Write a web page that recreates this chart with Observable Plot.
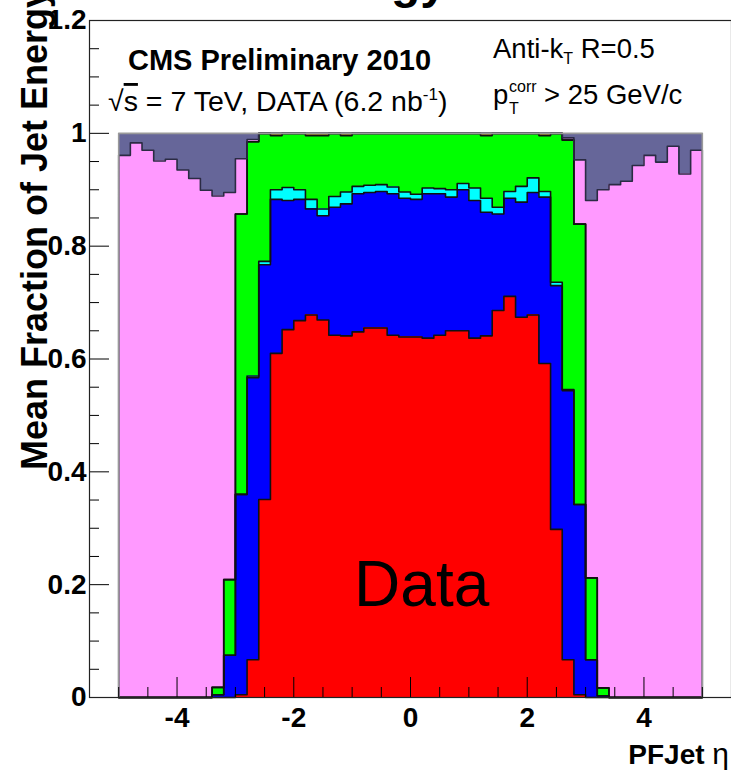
<!DOCTYPE html>
<html><head><meta charset="utf-8">
<script src="https://cdn.jsdelivr.net/npm/d3@7"></script>
<script src="https://cdn.jsdelivr.net/npm/@observablehq/plot@0.6"></script>
<style>body{margin:0;background:#fff;} svg text{font-family:"Liberation Sans",Arial,Helvetica,sans-serif;}</style>
</head><body><div id="chart"></div>
<script>
// ---- data (bin edges of PF jet eta, width 0.2) ----
const etaEdges = [-5,-4.8,-4.6,-4.4,-4.2,-4,-3.8,-3.6,-3.4,-3.2,-3,-2.8,-2.6,-2.4,-2.2,-2,-1.8,-1.6,-1.4,-1.2,-1,-0.8,-0.6,-0.4,-0.2,0,0.2,0.4,0.6,0.8,1,1.2,1.4,1.6,1.8,2,2.2,2.4,2.6,2.8,3,3.2,3.4,3.6,3.8,4,4.2,4.4,4.6,4.8,5];
const chargedHadron = [0,0,0,0,0,0,0,0,0,0,
  0.005,0.067,0.351,0.610,0.652,0.668,0.678,0.669,0.642,0.641,
  0.648,0.655,0.655,0.642,0.639,0.639,0.637,0.642,0.650,0.650,
  0.637,0.641,0.686,0.711,0.674,0.678,0.592,0.298,0.067,0.005,
  0,0,0,0,0,0,0,0,0,0];
const photon = [0,0,0,0,0,0,0,0,0.005,0.075,
  0.355,0.500,0.416,0.273,0.229,0.215,0.188,0.185,0.227,0.234,
  0.245,0.240,0.242,0.251,0.246,0.244,0.256,0.251,0.237,0.250,
  0.244,0.219,0.171,0.174,0.204,0.217,0.295,0.432,0.477,0.337,
  0.067,0.003,0,0,0,0,0,0,0,0];
const electron = [0,0,0,0,0,0,0,0,0,0,
  0,0.003,0.006,0.017,0.023,0.017,0.017,0.012,0.019,0.021,
  0.013,0.013,0.012,0.012,0.011,0.009,0.010,0.009,0.013,0.011,
  0.022,0.025,0.012,0.012,0.028,0.026,0.010,0.006,0.002,0,
  0,0,0,0,0,0,0,0,0,0];
const neutralHadron = [0,0,0,0,0,0,0,0,0.013,0.134,
  0.497,0.415,0.227,0.096,0.096,0.100,0.113,0.130,0.112,0.100,
  0.094,0.092,0.091,0.095,0.104,0.108,0.097,0.098,0.100,0.089,
  0.097,0.111,0.131,0.103,0.094,0.079,0.099,0.264,0.442,0.497,
  0.145,0.014,0,0,0,0,0,0,0,0];
const muon = [0,0,0,0,0,0,0,0,0,0,
  0,0,0,0.004,0,0,0.004,0.004,0,0.004,
  0,0,0,0,0,0,0,0,0,0,
  0,0.004,0,0,0,0,0.004,0,0,0,
  0,0,0,0,0,0,0,0,0,0];
const hfHadron = [0.961,0.983,0.970,0.951,0.954,0.935,0.920,0.899,0.871,0.686,
  0.098,0.004,0,0,0,0,0,0,0,0,
  0,0,0,0,0,0,0,0,0,0,
  0,0,0,0,0,0,0,0,0.004,0.114,
  0.669,0.883,0.909,0.915,0.943,0.961,0.949,0.977,0.928,0.970];
const hfEM = [0.039,0.017,0.030,0.049,0.046,0.065,0.080,0.101,0.111,0.105,
  0.045,0.011,0,0,0,0,0,0,0,0,
  0,0,0,0,0,0,0,0,0,0,
  0,0,0,0,0,0,0,0,0.008,0.047,
  0.119,0.100,0.091,0.085,0.057,0.039,0.051,0.023,0.072,0.030];
const componentNames = ["charged hadrons","photons","electrons","neutral hadrons","muons","HF hadrons","HF EM"];
const componentColors = ["#ff0000","#0000ff","#00ffff","#00ff00","#ffcc00","#ff99ff","#666699"];
const xMajorTicks = [-4,-2,0,2,4];
const xMinorTicks = [-5.5,-5,-4.5,-3.5,-3,-2.5,-1.5,-1,-0.5,0.5,1,1.5,2.5,3,3.5,4.5,5,5.5];
const yMajorTicks = [0,0.2,0.4,0.6,0.8,1,1.2];
const yMinorTicks = [0.05,0.1,0.15,0.25,0.3,0.35,0.45,0.5,0.55,0.65,0.7,0.75,0.85,0.9,0.95,1.05,1.1,1.15];

// ---- build stacked table ----
const series = [chargedHadron, photon, electron, neutralHadron, muon, hfHadron, hfEM];
const nBins = etaEdges.length - 1;
const cum = new Array(nBins).fill(0);
const rects = [], outline = [];
series.forEach((vals, k) => {
  const comp = componentNames[k];
  outline.push({comp, x: etaEdges[0], y: 0});
  vals.forEach((v, i) => {
    const y1 = cum[i], y2 = cum[i] + v; cum[i] = y2;
    if (v > 0) rects.push({comp, x1: etaEdges[i], x2: etaEdges[i+1], y1, y2});
    outline.push({comp, x: etaEdges[i], y: y2});
  });
  outline.push({comp, x: etaEdges[nBins], y: cum[nBins-1]});
  outline.push({comp, x: etaEdges[nBins], y: 0});
});
const W = 731, H = 773, mL = 89, mR = 0, mT = 20, mB = 76;
const fw = W - mL - mR, fh = H - mT - mB;
const font = "Liberation Sans, Arial, Helvetica, sans-serif";

const chart = Plot.plot({
  width: W, height: H,
  marginLeft: mL, marginRight: mR, marginTop: mT, marginBottom: mB,
  style: {background: "white", fontFamily: font, overflow: "hidden"},
  x: {domain: [-5.5, 5.5]},
  y: {domain: [0, 1.2]},
  color: {domain: componentNames, range: componentColors},
  marks: [
    Plot.rect(rects, {x1: "x1", x2: "x2", y1: "y1", y2: "y2", fill: "comp", shapeRendering: "crispEdges"}),
    Plot.line(outline, {x: "x", y: "y", z: "comp", curve: "step-after",
      stroke: d => d.comp === "HF EM" ? "#9a9a9a" : (d.comp === "HF hadrons" ? "#2b2b44" : "#111"), strokeWidth: 1.6}),
    Plot.tickX(xMinorTicks, {x: d => d, insetTop: fh - 10, stroke: "#000"}),
    Plot.tickX(xMajorTicks, {x: d => d, insetTop: fh - 20, stroke: "#000"}),
    Plot.tickY(yMinorTicks, {y: d => d, insetRight: fw - 10, stroke: "#000"}),
    Plot.tickY(yMajorTicks, {y: d => d, insetRight: fw - 20, stroke: "#000"}),
    Plot.frame({stroke: "#222", strokeWidth: 1.2}),
    Plot.axisX({ticks: xMajorTicks, tickSize: 0, tickPadding: 10, fontSize: 28, fontWeight: "bold", tickFormat: d => String(d), label: null}),
    Plot.axisY({ticks: yMajorTicks, tickSize: 0, tickPadding: 3, fontSize: 28, fontWeight: "bold", tickFormat: d => String(d), label: null})
  ]
});
document.getElementById("chart").appendChild(chart);

const svg = d3.select(chart);
const sx = chart.scale("x"), sy = chart.scale("y");
function addText(x, y, size, weight, anchor) {
  return svg.append("text").attr("x", x).attr("y", y)
    .attr("font-size", size).attr("font-weight", weight)
    .attr("text-anchor", anchor).attr("fill", "#000").style("font-family", font);
}
// cropped plot title at the very top (only descenders visible)
addText(447, -2, 48, "bold", "end").text("Jet Energy");
// labels
addText(128, 70, 29, "bold", "start").text("CMS Preliminary 2010");
const t2 = addText(108, 111, 28.5, "normal", "start");
t2.append("tspan").text("\u221A");
t2.append("tspan").style("text-decoration", "overline").text("s");
t2.append("tspan").text(" = 7 TeV, DATA (6.2 nb");
t2.append("tspan").attr("dy", -11).attr("font-size", 17).text("-1");
t2.append("tspan").attr("dy", 11).text(")");
const t3 = addText(493, 58, 27.5, "normal", "start");
t3.append("tspan").text("Anti-k");
t3.append("tspan").attr("dy", 6).attr("font-size", 16).text("T");
t3.append("tspan").attr("dy", -6).text(" R=0.5");
// p_T^corr > 25 GeV/c
addText(493, 104, 27.5, "normal", "start").text("p");
addText(509, 92, 16, "normal", "start").text("corr");
addText(509, 114, 16, "normal", "start").text("T");
addText(544, 104, 27.5, "normal", "start").text("> 25 GeV/c");
addText(sx.apply(0.2), sy.apply(0.2) + 22, 64, "normal", "middle").text("Data");
const t5 = addText(729, 764, 28, "bold", "end");
t5.append("tspan").text("PFJet ");
t5.append("tspan").attr("font-weight", "normal").attr("font-size", 30).text("\u03B7");
addText(0, 0, 36, "bold", "middle").attr("transform", "translate(47,229) rotate(-90)").text("Mean Fraction of Jet Energy");
</script></body></html>
